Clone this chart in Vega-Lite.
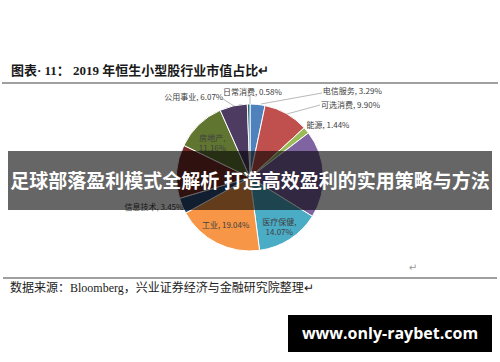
{
  "$schema": "https://vega.github.io/schema/vega-lite/v6.json",
  "width": 500,
  "height": 362,
  "padding": 0,
  "autosize": "none",
  "background": "white",
  "config": {"view": {"stroke": null}},
  "layer": [
    {
      "data": {"values": [
        {"sector": "电信服务", "share": 3.29},
        {"sector": "可选消费", "share": 9.90},
        {"sector": "能源", "share": 1.44},
        {"sector": "材料", "share": 19.23},
        {"sector": "医疗保健", "share": 14.07},
        {"sector": "工业", "share": 19.04},
        {"sector": "信息技术", "share": 3.45},
        {"sector": "金融", "share": 11.77},
        {"sector": "房地产", "share": 11.16},
        {"sector": "公用事业", "share": 6.07},
        {"sector": "日常消费", "share": 0.58}
      ]},
      "transform": [
        {"window": [{"op": "row_number", "as": "idx"}]},
        {"stack": "share", "groupby": [], "sort": [{"field": "idx", "order": "ascending"}], "as": ["s0", "s1"]},
        {"calculate": "(datum.s0 + datum.s1) / 2", "as": "mid"},
        {"calculate": "datum.sector + ', ' + format(datum.share, '.2f') + '%'", "as": "label"},
        {"calculate": "datum.sector + ',\\n' + format(datum.share, '.2f') + '%'", "as": "label2"}
      ],
      "encoding": {
        "x": {"datum": 50, "type": "quantitative", "scale": {"domain": [0, 100], "nice": false, "zero": false}, "axis": null},
        "y": {"datum": 49.03, "type": "quantitative", "scale": {"domain": [0, 100], "nice": false, "zero": false, "reverse": true}, "axis": null}
      },
      "layer": [
        {
          "mark": {"type": "arc", "outerRadius": 73.5, "stroke": "white", "strokeWidth": 1},
          "encoding": {
            "theta": {"field": "s0", "type": "quantitative", "stack": null, "scale": {"domain": [0, 100]}},
            "theta2": {"field": "s1"},
            "color": {
              "field": "sector", "type": "nominal", "legend": null,
              "scale": {
                "domain": ["电信服务", "可选消费", "能源", "材料", "医疗保健", "工业", "信息技术", "金融", "房地产", "公用事业", "日常消费"],
                "range": ["#4F81BD", "#C0504D", "#9BBB59", "#8064A2", "#4BACC6", "#F79646", "#2C4D75", "#772C2A", "#5F7530", "#4D3B62", "#276A7C"]
              }
            }
          }
        },
        {
          "transform": [{"filter": {"field": "sector", "oneOf": ["工业"]}}],
          "mark": {"type": "text", "radius": 54, "align": "center", "baseline": "middle", "font": "Noto Sans CJK SC", "fontSize": 8, "color": "#404040"},
          "encoding": {
            "theta": {"field": "mid", "type": "quantitative", "scale": {"domain": [0, 100]}},
            "text": {"field": "label", "type": "nominal"}
          }
        },
        {
          "transform": [{"filter": {"field": "sector", "oneOf": ["房地产", "医疗保健"]}}],
          "mark": {"type": "text", "radius": 54, "align": "center", "baseline": "middle", "lineBreak": "\n", "lineHeight": 10.5, "font": "Noto Sans CJK SC", "fontSize": 8, "color": "#404040"},
          "encoding": {
            "theta": {"field": "mid", "type": "quantitative", "scale": {"domain": [0, 100]}},
            "text": {"field": "label2", "type": "nominal"}
          }
        },
        {
          "transform": [{"filter": {"field": "sector", "equal": "电信服务"}}],
          "mark": {"type": "text", "radius": 90, "dx": 93, "dy": 4, "align": "center", "baseline": "middle", "font": "Noto Sans CJK SC", "fontSize": 8, "color": "#404040"},
          "encoding": {
            "theta": {"field": "mid", "type": "quantitative", "scale": {"domain": [0, 100]}},
            "text": {"field": "label", "type": "nominal"}
          }
        },
        {
          "transform": [{"filter": {"field": "sector", "equal": "可选消费"}}],
          "mark": {"type": "text", "radius": 90, "dx": 56, "dy": 7, "align": "center", "baseline": "middle", "font": "Noto Sans CJK SC", "fontSize": 8, "color": "#404040"},
          "encoding": {
            "theta": {"field": "mid", "type": "quantitative", "scale": {"domain": [0, 100]}},
            "text": {"field": "label", "type": "nominal"}
          }
        },
        {
          "transform": [{"filter": {"field": "sector", "equal": "能源"}}],
          "mark": {"type": "text", "radius": 90, "dx": 9, "dy": 6, "align": "center", "baseline": "middle", "font": "Noto Sans CJK SC", "fontSize": 8, "color": "#404040"},
          "encoding": {
            "theta": {"field": "mid", "type": "quantitative", "scale": {"domain": [0, 100]}},
            "text": {"field": "label", "type": "nominal"}
          }
        },
        {
          "transform": [{"filter": {"field": "sector", "equal": "公用事业"}}],
          "mark": {"type": "text", "radius": 90, "dx": -36, "dy": 8, "align": "center", "baseline": "middle", "font": "Noto Sans CJK SC", "fontSize": 8, "color": "#404040"},
          "encoding": {
            "theta": {"field": "mid", "type": "quantitative", "scale": {"domain": [0, 100]}},
            "text": {"field": "label", "type": "nominal"}
          }
        },
        {
          "transform": [{"filter": {"field": "sector", "equal": "日常消费"}}],
          "mark": {"type": "text", "radius": 90, "dx": 4, "dy": 5, "align": "center", "baseline": "middle", "font": "Noto Sans CJK SC", "fontSize": 8, "color": "#404040"},
          "encoding": {
            "theta": {"field": "mid", "type": "quantitative", "scale": {"domain": [0, 100]}},
            "text": {"field": "label", "type": "nominal"}
          }
        },
        {
          "transform": [{"filter": {"field": "sector", "equal": "信息技术"}}],
          "mark": {"type": "text", "radius": 90, "dx": -13, "dy": -4, "align": "center", "baseline": "middle", "font": "Noto Sans CJK SC", "fontSize": 8, "color": "#404040"},
          "encoding": {
            "theta": {"field": "mid", "type": "quantitative", "scale": {"domain": [0, 100]}},
            "text": {"field": "label", "type": "nominal"}
          }
        }
      ]
    },
    {
      "data": {"values": [{}]},
      "mark": {"type": "rule", "stroke": "#a6a6a6", "strokeWidth": 0.8},
      "encoding": {
        "x": {"datum": 52.2, "type": "quantitative", "scale": {"domain": [0, 100], "nice": false, "zero": false}, "axis": null},
        "x2": {"datum": 64.4},
        "y": {"datum": 28.73, "type": "quantitative", "scale": {"domain": [0, 100], "nice": false, "zero": false, "reverse": true}, "axis": null},
        "y2": {"datum": 25.69}
      }
    },
    {
      "data": {"values": [{}]},
      "mark": {"type": "rule", "stroke": "#a6a6a6", "strokeWidth": 0.8},
      "encoding": {
        "x": {"datum": 57.4, "type": "quantitative", "scale": {"domain": [0, 100], "nice": false, "zero": false}, "axis": null},
        "x2": {"datum": 64.0},
        "y": {"datum": 31.49, "type": "quantitative", "scale": {"domain": [0, 100], "nice": false, "zero": false, "reverse": true}, "axis": null},
        "y2": {"datum": 29.01}
      }
    },
    {
      "data": {"values": [{}]},
      "mark": {"type": "rule", "stroke": "#a6a6a6", "strokeWidth": 0.8},
      "encoding": {
        "x": {"datum": 44.6, "type": "quantitative", "scale": {"domain": [0, 100], "nice": false, "zero": false}, "axis": null},
        "x2": {"datum": 46.8},
        "y": {"datum": 27.35, "type": "quantitative", "scale": {"domain": [0, 100], "nice": false, "zero": false, "reverse": true}, "axis": null},
        "y2": {"datum": 29.28}
      }
    },
    {
      "data": {"values": [{}]},
      "mark": {"type": "rule", "stroke": "#a6a6a6", "strokeWidth": 0.8},
      "encoding": {
        "x": {"datum": 50.0, "type": "quantitative", "scale": {"domain": [0, 100], "nice": false, "zero": false}, "axis": null},
        "x2": {"datum": 50.0},
        "y": {"datum": 26.52, "type": "quantitative", "scale": {"domain": [0, 100], "nice": false, "zero": false, "reverse": true}, "axis": null},
        "y2": {"datum": 28.73}
      }
    },
    {
      "data": {"values": [{}]},
      "mark": {"type": "text", "align": "left", "baseline": "middle", "font": "Liberation Serif, Noto Sans CJK SC", "fontSize": 13, "fontWeight": "bold", "color": "#1a1a1a"},
      "encoding": {
        "x": {"datum": 2.2, "type": "quantitative", "scale": {"domain": [0, 100], "nice": false, "zero": false}, "axis": null},
        "y": {"datum": 19.75, "type": "quantitative", "scale": {"domain": [0, 100], "nice": false, "zero": false, "reverse": true}, "axis": null},
        "text": {"value": "图表· 11： 2019 年恒生小型股行业市值占比↵"}
      }
    },
    {
      "data": {"values": [{}]},
      "mark": {"type": "rule", "stroke": "#7f7f7f", "strokeWidth": 1.5},
      "encoding": {
        "x": {"datum": 0.4, "type": "quantitative", "scale": {"domain": [0, 100], "nice": false, "zero": false}, "axis": null},
        "x2": {"datum": 99.6},
        "y": {"datum": 22.93, "type": "quantitative", "scale": {"domain": [0, 100], "nice": false, "zero": false, "reverse": true}, "axis": null}
      }
    },
    {
      "data": {"values": [{}]},
      "mark": {"type": "rule", "stroke": "#7f7f7f", "strokeWidth": 1.5},
      "encoding": {
        "x": {"datum": 0.6, "type": "quantitative", "scale": {"domain": [0, 100], "nice": false, "zero": false}, "axis": null},
        "x2": {"datum": 99.4},
        "y": {"datum": 76.8, "type": "quantitative", "scale": {"domain": [0, 100], "nice": false, "zero": false, "reverse": true}, "axis": null}
      }
    },
    {
      "data": {"values": [{}]},
      "mark": {"type": "text", "align": "left", "baseline": "middle", "font": "Liberation Serif, Noto Sans CJK SC", "fontSize": 12, "color": "#222222"},
      "encoding": {
        "x": {"datum": 2, "type": "quantitative", "scale": {"domain": [0, 100], "nice": false, "zero": false}, "axis": null},
        "y": {"datum": 79.65, "type": "quantitative", "scale": {"domain": [0, 100], "nice": false, "zero": false, "reverse": true}, "axis": null},
        "text": {"value": "数据来源：Bloomberg，兴业证券经济与金融研究院整理↵"}
      }
    },
    {
      "data": {"values": [{}]},
      "mark": {"type": "text", "align": "center", "baseline": "middle", "font": "DejaVu Sans", "fontSize": 10, "color": "#999999"},
      "encoding": {
        "x": {"datum": 82.6, "type": "quantitative", "scale": {"domain": [0, 100], "nice": false, "zero": false}, "axis": null},
        "y": {"datum": 74.03, "type": "quantitative", "scale": {"domain": [0, 100], "nice": false, "zero": false, "reverse": true}, "axis": null},
        "text": {"value": "↵"}
      }
    },
    {
      "data": {"values": [{}]},
      "mark": {"type": "rect", "fill": "#000000", "fillOpacity": 0.6},
      "encoding": {
        "x": {"datum": 1.6, "type": "quantitative", "scale": {"domain": [0, 100], "nice": false, "zero": false}, "axis": null},
        "x2": {"datum": 98.4},
        "y": {"datum": 41.71, "type": "quantitative", "scale": {"domain": [0, 100], "nice": false, "zero": false, "reverse": true}, "axis": null},
        "y2": {"datum": 58.01}
      }
    },
    {
      "data": {"values": [{}]},
      "mark": {"type": "text", "align": "center", "baseline": "middle", "font": "Noto Sans CJK SC", "fontSize": 19, "fontWeight": "bold", "color": "#ffffff"},
      "encoding": {
        "x": {"datum": 50, "type": "quantitative", "scale": {"domain": [0, 100], "nice": false, "zero": false}, "axis": null},
        "y": {"datum": 50.14, "type": "quantitative", "scale": {"domain": [0, 100], "nice": false, "zero": false, "reverse": true}, "axis": null},
        "text": {"value": "足球部落盈利模式全解析 打造高效盈利的实用策略与方法"}
      }
    },
    {
      "data": {"values": [{}]},
      "mark": {"type": "rect", "fill": "#000000"},
      "encoding": {
        "x": {"datum": 57.6, "type": "quantitative", "scale": {"domain": [0, 100], "nice": false, "zero": false}, "axis": null},
        "x2": {"datum": 98.4},
        "y": {"datum": 87.02, "type": "quantitative", "scale": {"domain": [0, 100], "nice": false, "zero": false, "reverse": true}, "axis": null},
        "y2": {"datum": 97.24}
      }
    },
    {
      "data": {"values": [{}]},
      "mark": {"type": "text", "align": "center", "baseline": "middle", "font": "Open Sans", "fontSize": 16, "fontWeight": "bold", "color": "#ffffff"},
      "encoding": {
        "x": {"datum": 78, "type": "quantitative", "scale": {"domain": [0, 100], "nice": false, "zero": false}, "axis": null},
        "y": {"datum": 92.27, "type": "quantitative", "scale": {"domain": [0, 100], "nice": false, "zero": false, "reverse": true}, "axis": null},
        "text": {"value": "www.only-raybet.com"}
      }
    }
  ]
}
